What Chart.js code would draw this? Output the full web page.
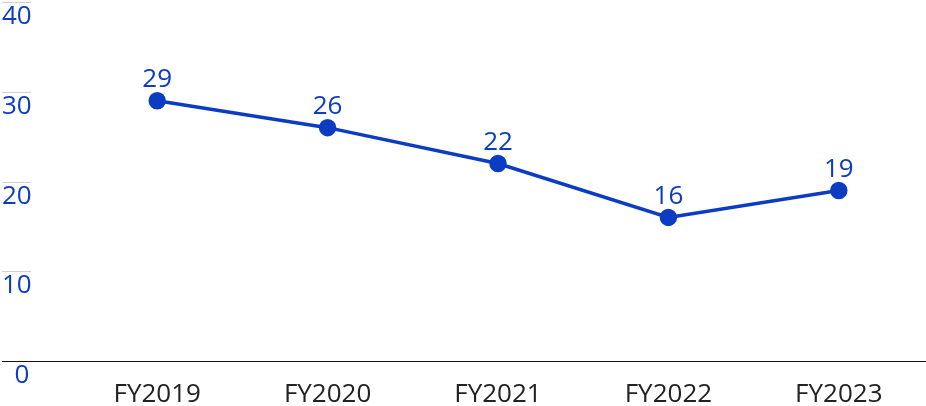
<!DOCTYPE html>
<html>
<head>
<meta charset="utf-8">
<script src="https://cdn.jsdelivr.net/npm/chart.js@4"></script>
<style>
  html, body { margin: 0; padding: 0; background: #fff; }
  #wrap { width: 926px; height: 406px; }
</style>
</head>
<body>
<div id="wrap"><canvas id="c"></canvas></div>
<script>
const categories = ['FY2019', 'FY2020', 'FY2021', 'FY2022', 'FY2023'];
const values = [29, 26, 22, 16, 19];
const yTicks = [0, 10, 20, 30, 40];

const BLUE = '#0B3CC1';
const FONT = "'Open Sans', 'Noto Sans', sans-serif";

// custom y labels, short grid marks, full-width baseline and value labels
const decor = {
  id: 'decor',
  afterDraw(chart) {
    const ctx = chart.ctx;
    const y = chart.scales.y;
    ctx.save();
    ctx.font = '26px ' + FONT;
    ctx.fillStyle = BLUE;
    ctx.textBaseline = 'top';
    yTicks.forEach(t => {
      const py = Math.round(y.getPixelForValue(t)) + 0.5;
      if (t === 0) {
        ctx.strokeStyle = '#111';
        ctx.lineWidth = 1.2;
        ctx.beginPath(); ctx.moveTo(2, py); ctx.lineTo(926, py); ctx.stroke();
        ctx.textAlign = 'center';
        ctx.fillText(String(t), 22, py + 1);
      } else {
        ctx.strokeStyle = '#d0d0d0';
        ctx.lineWidth = 1;
        ctx.beginPath(); ctx.moveTo(2, py); ctx.lineTo(31, py); ctx.stroke();
        ctx.textAlign = 'left';
        ctx.fillText(String(t), 2, py + 1);
      }
    });
    const meta = chart.getDatasetMeta(0);
    ctx.textAlign = 'center';
    ctx.textBaseline = 'bottom';
    meta.data.forEach((pt, i) => {
      ctx.fillText(String(values[i]), pt.x, pt.y - 8);
    });
    ctx.restore();
  }
};

new Chart(document.getElementById('c'), {
  type: 'line',
  data: {
    labels: categories,
    datasets: [{
      data: values,
      borderColor: BLUE,
      backgroundColor: BLUE,
      borderWidth: 3.5,
      pointRadius: 7,
      pointHoverRadius: 7,
      tension: 0
    }]
  },
  options: {
    responsive: true,
    maintainAspectRatio: false,
    animation: false,
    layout: { autoPadding: false, padding: { left: 72, right: 2, top: 2, bottom: 0 } },
    plugins: { legend: { display: false }, tooltip: { enabled: false } },
    scales: {
      x: {
        offset: true,
        grid: { display: false },
        border: { display: false },
        ticks: { color: '#222', font: { size: 26, family: FONT }, padding: 10, maxRotation: 0 },
        afterFit(scale) { scale.height = 45; }
      },
      y: {
        display: false,
        min: 0,
        max: 40
      }
    }
  },
  plugins: [decor]
});
</script>
</body>
</html>
